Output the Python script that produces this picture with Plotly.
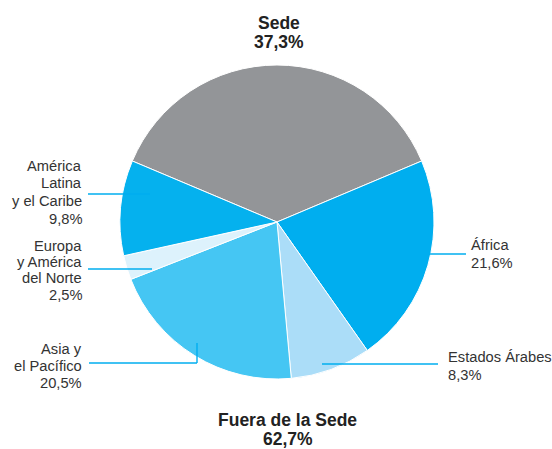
import plotly.graph_objects as go

regions = ["Sede", "África", "Estados Árabes", "Asia y el Pacífico",
           "Europa y América del Norte", "América Latina y el Caribe"]
shares = [37.3, 21.6, 8.3, 20.5, 2.5, 9.8]
colors = ["#939598", "#00AEEF", "#ABDDF8", "#45C6F3", "#DDF2FC", "#05B1EE"]

label_lines = {
    "África": ["África", "21,6%"],
    "Estados Árabes": ["Estados Árabes", "8,3%"],
    "Asia y el Pacífico": ["Asia y", "el Pacífico", "20,5%"],
    "Europa y América del Norte": ["Europa", "y América", "del Norte", "2,5%"],
    "América Latina y el Caribe": ["América", "Latina", "y el Caribe", "9,8%"],
}
header_top = ["Sede", "37,3%"]
header_bottom = ["Fuera de la Sede", "62,7%"]

W, H = 552, 449
cx, cy, R = 277, 222, 157

def px(x):
    return x / W

def py(y):
    return 1 - y / H

fig = go.Figure(go.Pie(
    labels=regions, values=shares, sort=False, direction="clockwise",
    rotation=-shares[0] / 100 * 180,
    marker=dict(colors=colors, line=dict(color="white", width=1)),
    textinfo="none", hole=0,
    domain=dict(x=[px(cx - R), px(cx + R)], y=[py(cy + R), py(cy - R)]),
    showlegend=False,
))

fam = "Liberation Sans, Arial, Helvetica, sans-serif"
font = dict(family=fam, size=14.7, color="#333333")
bfont = dict(family=fam, size=17.5, color="#222222")

ann = []
# (key, x, line y-centres, xanchor)
pos = [
    ("África", 469, [245, 263], "left"),
    ("Estados Árabes", 446, [357, 375], "left"),
    ("Asia y el Pacífico", 84, [349, 366, 383], "right"),
    ("Europa y América del Norte", 84, [246, 262, 278, 295], "right"),
    ("América Latina y el Caribe", 84, [166, 183, 201, 219], "right"),
]
for key, x, ys, xa in pos:
    for t, y in zip(label_lines[key], ys):
        ann.append(dict(text=t, x=px(x), y=py(y), xref="paper", yref="paper",
                        xanchor=xa, yanchor="middle", showarrow=False, font=font))
for t, y in zip(header_top, [22.5, 41.5]):
    ann.append(dict(text="<b>%s</b>" % t, x=px(279), y=py(y), xref="paper", yref="paper",
                    xanchor="center", yanchor="middle", showarrow=False, font=bfont))
for t, y in zip(header_bottom, [420, 438.5]):
    ann.append(dict(text="<b>%s</b>" % t, x=px(287.5), y=py(y), xref="paper", yref="paper",
                    xanchor="center", yanchor="middle", showarrow=False, font=bfont))

lc = "#00AEEF"
segs = [
    (409, 254, 466, 254),
    (322, 364, 438, 364),
    (89, 363, 197, 363),
    (197, 363, 197, 343),
    (88, 269, 152, 269),
    (88, 194, 150, 194),
]
shapes = [dict(type="line", xref="paper", yref="paper", x0=px(a), y0=py(b), x1=px(c), y1=py(d),
               line=dict(color=lc, width=1.4)) for a, b, c, d in segs]

fig.update_layout(width=W, height=H, margin=dict(l=0, r=0, t=0, b=0),
                  paper_bgcolor="white", plot_bgcolor="white",
                  annotations=ann, shapes=shapes)
fig.write_html("out.html", config={"displayModeBar": False},
               post_script="document.body.style.margin='0';document.body.style.overflow='hidden';")
